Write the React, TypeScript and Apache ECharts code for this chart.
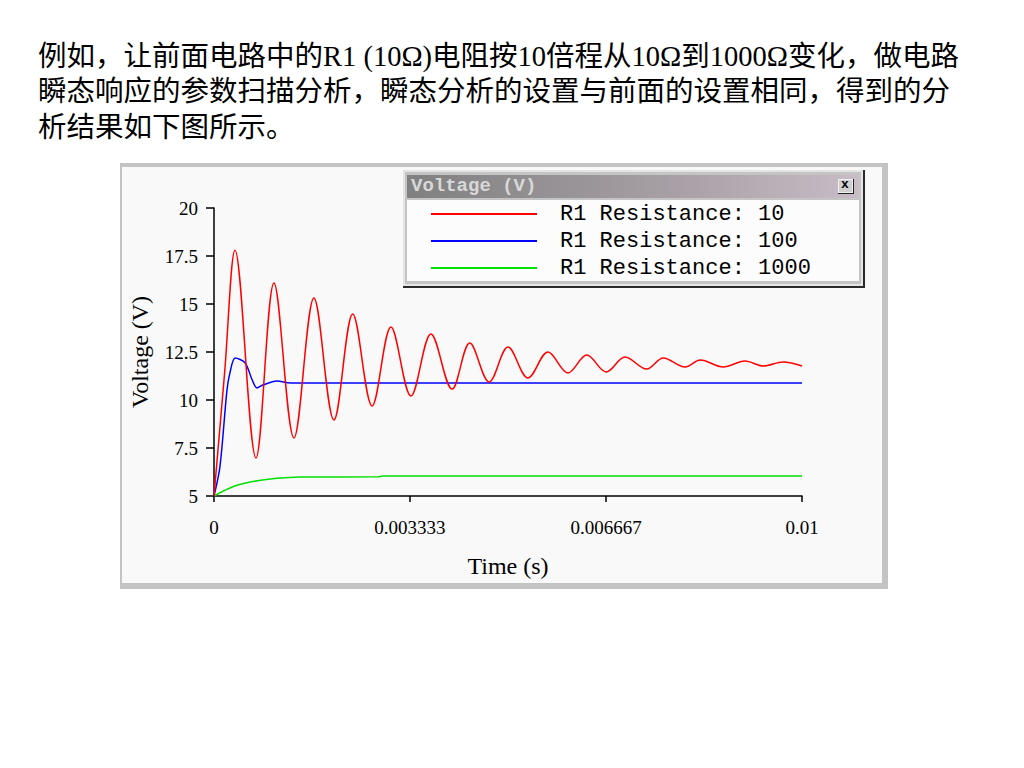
import React, { useEffect, useRef } from "react";
import * as echarts from "echarts";

// ---- data ----
const seriesNames = ["R1 Resistance: 10", "R1 Resistance: 100", "R1 Resistance: 1000"];
const seriesColors = ["#ff0000", "#0000ff", "#00e000"];

// [time (s), voltage (V)]
const r10: number[][] = [
  [0, 5], [0.00018, 11.4], [0.000357, 17.8], [0.000714, 6.98], [0.00102, 16.09],
  [0.00136, 8.02], [0.0017, 15.31], [0.00204, 8.96], [0.00236, 14.48], [0.00269, 9.69],
  [0.00301, 13.8], [0.00335, 10.21], [0.00369, 13.44], [0.00405, 10.57], [0.00435, 12.97],
  [0.00468, 10.94], [0.005, 12.76], [0.00534, 11.15], [0.00568, 12.5], [0.00602, 11.41],
  [0.00634, 12.34], [0.00667, 11.46], [0.00699, 12.24], [0.00736, 11.61], [0.00764, 12.19],
  [0.00801, 11.72], [0.00827, 12.08], [0.00866, 11.72], [0.00903, 12.03], [0.00934, 11.77],
  [0.00968, 11.98], [0.01, 11.77],
];
const r100: number[][] = [
  [0, 5], [0.0001, 6.5], [0.00022, 10.5], [0.00027, 11.4], [0.00036, 12.19],
  [0.00053, 11.93], [0.00065, 11.04], [0.00073, 10.63], [0.00083, 10.78],
  [0.00107, 10.99], [0.0013, 10.89], [0.01, 10.89],
];
const r1000: number[][] = [
  [0, 5], [0.00032, 5.48], [0.00066, 5.75], [0.00107, 5.92], [0.00146, 5.99],
  [0.00279, 6.0], [0.00287, 6.04], [0.01, 6.04],
];

const xTickValues = [0, 0.003333, 0.006667, 0.01];
const xTickLabels = ["0", "0.003333", "0.006667", "0.01"];
const yTickLabels = ["5", "7.5", "10", "12.5", "15", "17.5", "20"];

const textLines = [
  "例如，让前面电路中的R1 (10Ω)电阻按10倍程从10Ω到1000Ω变化，做电路",
  "瞬态响应的参数扫描分析，瞬态分析的设置与前面的设置相同，得到的分",
  "析结果如下图所示。",
];

const serif = "'Liberation Serif', 'Times New Roman', 'Noto Sans CJK SC', serif";
const mono = "'Liberation Mono', 'DejaVu Sans Mono', monospace";

export default function App() {
  const ref = useRef<HTMLDivElement>(null);
  useEffect(() => {
    if (!ref.current) return;
    const chart = echarts.init(ref.current, null, { renderer: "svg" });
    const data = [r10, r100, r1000];
    chart.setOption({
      animation: false,
      backgroundColor: "#ffffff",
      graphic: [
        // slide text
        ...textLines.map((t, i) => ({
          type: "text",
          left: 38,
          top: 42 + i * 35.5,
          z: 1,
          style: { text: t, font: `28.5px ${serif}`, fill: "#000" },
        })),
        // picture frame
        { type: "rect", z: -10, shape: { x: 120, y: 163, width: 768, height: 426 }, style: { fill: "#c3c3c3" } },
        { type: "rect", z: -9, shape: { x: 122, y: 167, width: 760, height: 416 }, style: { fill: "#f9f9f9" } },
        // legend window
        { type: "rect", z: 5, shape: { x: 403, y: 170, width: 462, height: 118 }, style: { fill: "#2a2a2a" } },
        { type: "rect", z: 5, shape: { x: 403, y: 170, width: 460, height: 116 }, style: { fill: "#e4e4e4" } },
        { type: "rect", z: 5, shape: { x: 405, y: 172, width: 456, height: 112 }, style: { fill: "#c4c4c4" } },
        {
          type: "rect", z: 6, shape: { x: 407, y: 175, width: 452, height: 23 },
          style: {
            fill: new echarts.graphic.LinearGradient(0, 0, 1, 0, [
              { offset: 0, color: "#808080" },
              { offset: 0.6, color: "#a8a0a6" },
              { offset: 1, color: "#c8bcc6" },
            ]),
          },
        },
        {
          type: "text", z: 7, left: 411, top: 176,
          style: { text: "Voltage (V)", font: `bold 19px ${mono}`, fill: "#d8d8d8" },
        },
        { type: "rect", z: 7, shape: { x: 838, y: 179, width: 16, height: 15 }, style: { fill: "#222" } },
        { type: "rect", z: 7, shape: { x: 838, y: 179, width: 15, height: 14 }, style: { fill: "#f0f0f0" } },
        { type: "rect", z: 7, shape: { x: 839, y: 180, width: 13, height: 12 }, style: { fill: "#d0d0d0" } },
        {
          type: "text", z: 8, left: 841, top: 178,
          style: { text: "x", font: `bold 13px ${mono}`, fill: "#000" },
        },
        { type: "rect", z: 6, shape: { x: 407, y: 200, width: 452, height: 81 }, style: { fill: "#fcfcfc" } },
      ],
      grid: { left: 214, right: 222, top: 208, bottom: 272, containLabel: false },
      legend: {
        show: true,
        orient: "vertical",
        left: 431,
        top: 203,
        padding: 0,
        z: 10,
        selectedMode: false,
        itemWidth: 106,
        itemHeight: 14,
        itemGap: 5,
        data: seriesNames.map((n, i) => ({
          name: n,
          icon: "path://M0,0H100V2H0Z",
          itemStyle: { color: seriesColors[i] },
        })),
        textStyle: {
          fontFamily: mono,
          fontSize: 22,
          lineHeight: 21,
          color: "#000",
          padding: [0, 0, 0, 18],
        },
      },
      xAxis: {
        type: "value",
        min: 0,
        max: 0.01,
        name: "Time (s)",
        nameLocation: "middle",
        nameGap: 58,
        nameTextStyle: { fontFamily: serif, fontSize: 24, color: "#000" },
        axisLine: { show: true, onZero: false, lineStyle: { color: "#000", width: 1.5 } },
        axisTick: { show: true, length: 6, customValues: xTickValues, lineStyle: { color: "#000", width: 1.5 } },
        axisLabel: {
          customValues: xTickValues,
          margin: 22,
          fontFamily: serif,
          fontSize: 19,
          color: "#000",
          formatter: (v: number) => {
            const i = xTickValues.findIndex((t) => Math.abs(t - v) < 1e-6);
            return i >= 0 ? xTickLabels[i] : "";
          },
        },
        splitLine: { show: false },
      },
      yAxis: {
        type: "value",
        min: 5,
        max: 20,
        interval: 2.5,
        name: "Voltage (V)",
        nameLocation: "middle",
        nameGap: 62,
        nameTextStyle: { fontFamily: serif, fontSize: 24, color: "#000" },
        axisLine: { show: true, lineStyle: { color: "#000", width: 1.5 } },
        axisTick: { show: true, length: 8, lineStyle: { color: "#000", width: 1.5 } },
        axisLabel: {
          margin: 16,
          fontFamily: serif,
          fontSize: 19,
          color: "#000",
          formatter: (v: number) => {
            const s = String(v);
            return yTickLabels.includes(s) ? s : "";
          },
        },
        splitLine: { show: false },
      },
      series: data.map((d, i) => ({
        type: "line",
        name: seriesNames[i],
        data: d,
        showSymbol: false,
        symbol: "none",
        smooth: i === 0 ? 0.35 : 0.3,
        lineStyle: { color: seriesColors[i], width: 1.5 },
        itemStyle: { color: seriesColors[i] },
        z: 3 - i,
      })),
    });
    return () => chart.dispose();
  }, []);
  return (
    <div
      ref={ref}
      style={{ position: "fixed", left: 0, top: 0, width: 1024, height: 768, background: "#fff" }}
    />
  );
}
